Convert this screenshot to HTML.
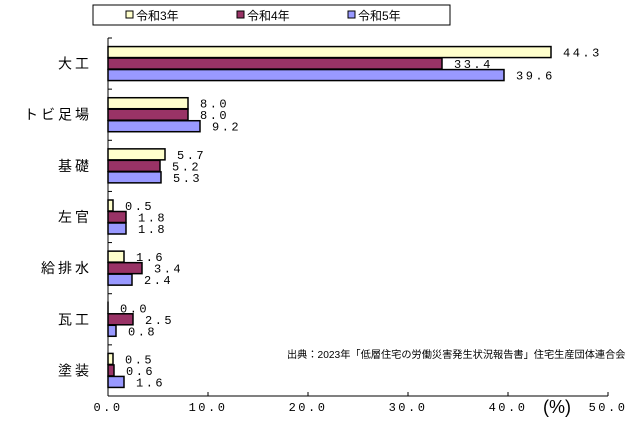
<!DOCTYPE html>
<html><head><meta charset="utf-8"><style>
body{margin:0;background:#fff;}
svg text{font-family:"Liberation Sans","Noto Sans CJK JP",sans-serif;}
.v{font-family:"Liberation Mono","Noto Sans CJK JP",monospace;font-size:12px;letter-spacing:2.5px;}
</style></head><body>
<svg id="c" width="640" height="418" xmlns="http://www.w3.org/2000/svg">
<g>
<rect x="93" y="5" width="357" height="20" fill="#fff" stroke="#000"/>
<rect x="126" y="11" width="7" height="7" fill="#ffffcc" stroke="#000"/>
<text x="136" y="20" font-size="12">令和3年</text>
<rect x="237" y="11" width="7" height="7" fill="#993366" stroke="#000"/>
<text x="247" y="20" font-size="12">令和4年</text>
<rect x="348" y="11" width="7" height="7" fill="#9999ff" stroke="#000"/>
<text x="358" y="20" font-size="12">令和5年</text>
</g>
<text x="287" y="358" font-size="10.2">出典：2023年「低層住宅の労働災害発生状況報告書」住宅生産団体連合会</text>
<text x="557" y="413" font-size="18" text-anchor="middle">(%)</text>
<g id="plot"></g>
</svg>
<script>
const categories=["大工","トビ足場","基礎","左官","給排水","瓦工","塗装"];
const r3=[44.3,8.0,5.7,0.5,1.6,0.0,0.5];
const r4=[33.4,8.0,5.2,1.8,3.4,2.5,0.6];
const r5=[39.6,9.2,5.3,1.8,2.4,0.8,1.6];
const ticks=[0,10,20,30,40,50];
const tickLabels=["0.0","10.0","20.0","30.0","40.0","50.0"];
const ns="http://www.w3.org/2000/svg";
const g=document.getElementById('plot');
const X0=108,X1=608,Y0=38,Y1=396;
const xs=v=>X0+(v-0)/(50-0)*(X1-X0);
const band=(Y1-Y0)/categories.length;
function el(t,a){const e=document.createElementNS(ns,t);for(const k in a)e.setAttribute(k,a[k]);g.appendChild(e);return e;}
let ax=el('line',{x1:X0,y1:Y0,x2:X0,y2:Y1,stroke:'#000'});


let bx=el('line',{x1:X0,y1:Y1,x2:X1,y2:Y1,stroke:'#000'});


categories.forEach((c,i)=>{
  const yt=Y0+band*i;
  let tk=el('line',{x1:X0,y1:yt,x2:X0+4,y2:yt,stroke:'#000'});
  
  
  const cy=yt+band/2;
  let t=el('text',{x:92,y:cy+5,'font-size':14,'letter-spacing':3,'text-anchor':'end'});t.textContent=c;
  
  
  [[r3,'#ffffcc','r3'],[r4,'#993366','r4'],[r5,'#9999ff','r5']].forEach(([s,col,n],j)=>{
    const y=cy-17+j*11.5;
    let r=el('rect',{x:X0,y:y,width:Math.max(xs(s[i])-X0,0.01),height:11,fill:col,stroke:'#000','stroke-width':1.5});
    
    
    let v=el('text',{x:xs(s[i])+12,y:y+10,class:'v'});v.textContent=s[i].toFixed(1);
    
    
  });
});
ticks.forEach((v,i)=>{
  let tk=el('line',{x1:xs(v),y1:Y1,x2:xs(v),y2:Y1-4,stroke:'#000'});
  
  
  let t=el('text',{x:xs(v),y:411,class:'v','text-anchor':'middle'});t.textContent=tickLabels[i];
  
  
});
</script>
</body></html>
